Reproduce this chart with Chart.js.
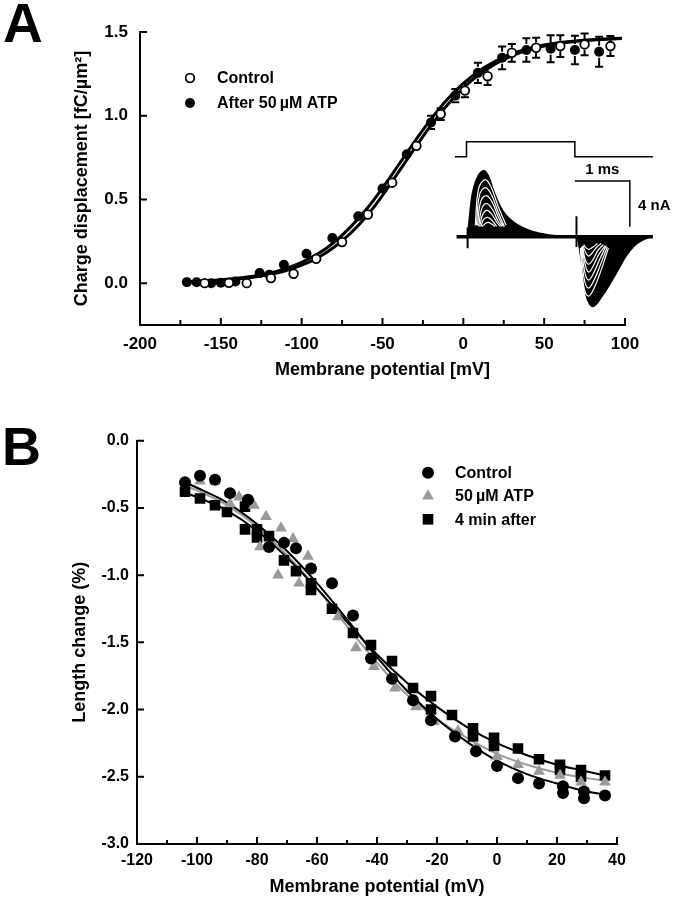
<!DOCTYPE html>
<html>
<head>
<meta charset="utf-8">
<script src="https://cdn.jsdelivr.net/npm/chart.js@4.4.1/dist/chart.umd.min.js"></script>
<style>
  body { margin: 0; background: #fff; width: 680px; height: 899px; position: relative; overflow: hidden;
         font-family: "Liberation Sans", Arial, Helvetica, sans-serif; }
  .box { position: absolute; }
  .letter { position: absolute; font-weight: bold; color: #000; line-height: 1; }
</style>
</head>
<body>
<div class="letter" style="left:3px; top:-4px; font-size:55px;">A</div>
<div class="box" style="left:0; top:0; width:680px; height:390px;"><canvas id="chartA"></canvas></div>
<div class="box" style="left:450px; top:135px; width:230px; height:180px;"><canvas id="inset"></canvas></div>
<div class="letter" style="left:2px; top:419px; font-size:54px;">B</div>
<div class="box" style="left:0; top:400px; width:680px; height:499px;"><canvas id="chartB"></canvas></div>

<script>
    // ---- panel A: charge displacement ----
    var aXTicks = [-200, -150, -100, -50, 0, 50, 100];
    var aXMinor = [-175, -125, -75, -25, 25, 75];
    var aYTicks = [0, 0.5, 1.0, 1.5];

    var aAtpV = [-171, -165, -156, -150, -141, -126, -120, -111, -97, -81, -65, -50, -35, -20, -5, 9, 24, 39, 54, 69, 84];
    var aAtpQ = [0.006, 0.005, 0.0, 0.003, 0.010, 0.060, 0.050, 0.110, 0.176, 0.270, 0.400, 0.565, 0.770, 0.960, 1.120, 1.256, 1.346, 1.392, 1.400, 1.392, 1.382];
    var aAtpErr = [0.01, 0.01, 0.01, 0.01, 0.01, 0.015, 0.015, 0.02, 0.02, 0.025, 0.03, 0.03, 0.035, 0.04, 0.04, 0.06, 0.068, 0.07, 0.08, 0.085, 0.09];

    var aCtlV = [-160, -145, -134, -119, -105, -91, -75, -59, -44, -29, -14, 1, 15, 30, 45, 60, 75, 91];
    var aCtlQ = [0.0, 0.002, 0.0, 0.03, 0.056, 0.145, 0.245, 0.410, 0.600, 0.820, 1.010, 1.150, 1.236, 1.376, 1.406, 1.416, 1.426, 1.416];
    var aCtlErr = [0.01, 0.01, 0.01, 0.015, 0.015, 0.02, 0.02, 0.025, 0.03, 0.03, 0.035, 0.04, 0.053, 0.053, 0.06, 0.065, 0.065, 0.06];

    var aFitV = [-173, -160, -150, -140, -130, -120, -110, -100, -90, -80, -70, -60, -50, -40, -30, -20, -10, 0, 10, 20, 30, 40, 50, 60, 70, 80, 90, 98];
    var aFitAtp = [0.008, 0.013, 0.020, 0.029, 0.042, 0.060, 0.087, 0.124, 0.175, 0.244, 0.333, 0.441, 0.568, 0.707, 0.847, 0.980, 1.097, 1.193, 1.269, 1.327, 1.370, 1.400, 1.422, 1.437, 1.447, 1.454, 1.459, 1.462];
    var aFitCtl = [0.006, 0.011, 0.016, 0.024, 0.035, 0.051, 0.074, 0.107, 0.152, 0.214, 0.296, 0.398, 0.524, 0.664, 0.806, 0.942, 1.063, 1.166, 1.248, 1.311, 1.358, 1.392, 1.416, 1.433, 1.445, 1.452, 1.458, 1.461];

    // ---- inset: gating currents (ms / nA) ----
    var insProtoT = [-0.21, 0.0, 0.0, 1.97, 1.97, 3.39];
    var insProtoV = [7.0, 7.0, 8.3, 8.3, 7.0, 7.0];
    var insBaseT = [-0.18, 3.39];
    var insBaseI = [0, 0];
    var insOnT = [0.02, 0.06, 0.10, 0.15, 0.20, 0.25, 0.32, 0.40, 0.50, 0.60, 0.70, 0.85, 1.00, 1.20, 1.50, 1.90];
    var insOnI = [0, 2.0, 3.6, 4.6, 5.2, 5.6, 5.77, 5.3, 3.9, 2.8, 2.0, 1.3, 0.85, 0.45, 0.15, 0];
    var insOffT = [2.02, 2.06, 2.10, 2.15, 2.20, 2.28, 2.36, 2.45, 2.55, 2.65, 2.78, 2.90, 3.05, 3.20, 3.35];
    var insOffI = [0, -1.2, -2.5, -4.4, -5.5, -6.1, -5.9, -5.3, -4.6, -3.8, -2.7, -1.7, -0.8, -0.3, 0];
    var onArcT = [
        [0.16, 0.22, 0.34, 0.45, 0.58, 0.72],
        [0.18, 0.24, 0.35, 0.46, 0.58, 0.69],
        [0.20, 0.26, 0.36, 0.47, 0.58, 0.67],
        [0.22, 0.28, 0.37, 0.47, 0.57, 0.65],
        [0.24, 0.30, 0.38, 0.47, 0.56, 0.62],
        [0.26, 0.31, 0.38, 0.46, 0.55],
        [0.28, 0.33, 0.39, 0.46, 0.52]
    ];
    var onArcI = [
        [1.0, 4.2, 5.0, 4.3, 2.6, 1.0],
        [1.0, 3.7, 4.3, 3.6, 2.1, 0.9],
        [1.0, 3.1, 3.6, 3.0, 1.7, 0.9],
        [0.9, 2.5, 2.9, 2.4, 1.4, 0.9],
        [0.9, 2.0, 2.3, 1.9, 1.2, 0.9],
        [0.9, 1.5, 1.7, 1.45, 0.9],
        [0.9, 1.1, 1.25, 1.1, 0.9]
    ];
    var offArcT = [
        [2.07, 2.13, 2.22, 2.32, 2.45, 2.58],
        [2.08, 2.14, 2.22, 2.32, 2.44, 2.56],
        [2.09, 2.15, 2.22, 2.31, 2.42, 2.54],
        [2.10, 2.16, 2.22, 2.30, 2.40, 2.52],
        [2.11, 2.16, 2.22, 2.30, 2.39, 2.49],
        [2.12, 2.17, 2.22, 2.29, 2.37, 2.45],
        [2.13, 2.18, 2.23, 2.30, 2.38]
    ];
    var offArcI = [
        [-1.0, -4.3, -5.2, -4.5, -2.9, -1.0],
        [-1.0, -3.7, -4.5, -3.8, -2.4, -0.9],
        [-0.9, -3.1, -3.8, -3.2, -2.0, -0.8],
        [-0.9, -2.5, -3.1, -2.6, -1.6, -0.8],
        [-0.8, -2.0, -2.4, -2.0, -1.2, -0.7],
        [-0.8, -1.4, -1.7, -1.4, -0.9, -0.6],
        [-0.7, -1.0, -1.1, -0.9, -0.6]
    ];
    var insSpikeT = [0.02, 2.0];
    var insSpikeTop = [0.8, 1.8];
    var insSpikeBot = [-1.0, -0.9];
    var insBarT = [1.97, 2.97, 2.97];
    var insBarI = [4.87, 4.87, 0.87];

    // ---- panel B: length change ----
    var bXTicks = [-120, -100, -80, -60, -40, -20, 0, 20, 40];
    var bXMinor = [-110, -90, -70, -50, -30, -10, 10, 30];
    var bYTicks = [0, -0.5, -1.0, -1.5, -2.0, -2.5, -3.0];

    var bCtlV = [-104, -99, -94, -89, -83, -76, -71, -67, -62, -55, -48, -42, -35, -28, -22, -14, -7, 0, 7, 14, 22, 22, 29, 29, 36];
    var bCtlL = [-0.31, -0.26, -0.29, -0.39, -0.44, -0.79, -0.76, -0.80, -0.95, -1.06, -1.30, -1.62, -1.77, -1.93, -2.08, -2.20, -2.31, -2.42, -2.51, -2.55, -2.57, -2.62, -2.61, -2.66, -2.64];

    var bAtpV = [-99, -94, -89, -86, -81, -77, -79, -72, -68, -73, -63, -66, -53, -47, -41, -34, -27, -21, -13, -7, 0, 7, 14, 21, 28, 36];
    var bAtpL = [-0.30, -0.30, -0.47, -0.42, -0.48, -0.565, -0.79, -0.65, -0.73, -1.00, -0.86, -1.06, -1.31, -1.54, -1.68, -1.84, -1.98, -2.09, -2.16, -2.28, -2.35, -2.41, -2.46, -2.49, -2.54, -2.54];

    var bAftV = [-104, -99, -94, -90, -84, -84, -80, -80, -76, -71, -67, -62, -62, -55, -48, -42, -35, -28, -22, -22, -15, -8, -8, -1, -1, 7, 14, 21, 21, 28, 28, 36];
    var bAftL = [-0.38, -0.43, -0.48, -0.53, -0.49, -0.66, -0.66, -0.72, -0.71, -0.89, -0.97, -1.06, -1.11, -1.25, -1.43, -1.52, -1.64, -1.84, -1.90, -2.00, -2.04, -2.14, -2.20, -2.21, -2.27, -2.29, -2.37, -2.41, -2.45, -2.45, -2.50, -2.49];

    var bFitV = [-105, -100, -90, -80, -70, -60, -50, -40, -30, -20, -10, 0, 10, 20, 30, 36];
    var bFitCtl = [-0.30, -0.35, -0.46, -0.62, -0.82, -1.06, -1.33, -1.61, -1.86, -2.07, -2.24, -2.38, -2.48, -2.55, -2.61, -2.63];
    var bFitAtp = [-0.33, -0.37, -0.48, -0.64, -0.85, -1.10, -1.38, -1.65, -1.89, -2.07, -2.21, -2.33, -2.41, -2.47, -2.51, -2.53];
    var bFitAft = [-0.38, -0.42, -0.52, -0.67, -0.87, -1.10, -1.35, -1.59, -1.80, -1.98, -2.13, -2.25, -2.34, -2.41, -2.46, -2.49];

    var GRAY = '#9a9a9a';
    var FONT = '"Liberation Sans", Arial, Helvetica, sans-serif';
    Chart.defaults.font.family = FONT;
    Chart.defaults.color = '#000';

    function pts(xs, ys) {
        return xs.map(function (x, i) { return { x: x, y: ys[i] }; });
    }

    function marker(ctx, style, x, y, r, fill, stroke, bw) {
        ctx.beginPath();
        if (style === 'rect') {
            var s = Math.SQRT1_2 * r;
            ctx.rect(x - s, y - s, 2 * s, 2 * s);
        } else if (style === 'triangle') {
            for (var k = 0; k < 3; k++) {
                var a = k * 2 * Math.PI / 3;
                var px = x + Math.sin(a) * r, py = y - Math.cos(a) * r;
                if (k === 0) ctx.moveTo(px, py); else ctx.lineTo(px, py);
            }
            ctx.closePath();
        } else {
            ctx.arc(x, y, r, 0, Math.PI * 2);
        }
        ctx.fillStyle = fill;
        ctx.fill();
        if (bw) { ctx.lineWidth = bw; ctx.strokeStyle = stroke; ctx.stroke(); }
    }

    // ticks pointing into the plot, as in the original
    var innerTicks = {
        id: 'innerTicks',
        afterDraw: function (chart, args, opts) {
            var ctx = chart.ctx, area = chart.chartArea, sx = chart.scales.x, sy = chart.scales.y;
            ctx.save();
            ctx.strokeStyle = '#000';
            ctx.lineWidth = 2;
            ctx.beginPath();
            opts.xMajor.forEach(function (v) { var p = sx.getPixelForValue(v); ctx.moveTo(p, area.bottom); ctx.lineTo(p, area.bottom - opts.majorLen); });
            opts.xMinor.forEach(function (v) { var p = sx.getPixelForValue(v); ctx.moveTo(p, area.bottom); ctx.lineTo(p, area.bottom - opts.minorLen); });
            opts.yMajor.forEach(function (v) { var p = sy.getPixelForValue(v); ctx.moveTo(area.left, p); ctx.lineTo(area.left + opts.majorLen, p); });
            ctx.stroke();
            ctx.restore();
        }
    };

    var errorBars = {
        id: 'errorBars',
        afterDatasetsDraw: function (chart) {
            var ctx = chart.ctx, sy = chart.scales.y;
            ctx.save();
            ctx.strokeStyle = '#000';
            ctx.lineWidth = 2;
            chart.data.datasets.forEach(function (ds, i) {
                if (!ds.errors) return;
                var meta = chart.getDatasetMeta(i);
                meta.data.forEach(function (el, j) {
                    var v = ds.data[j].y, e = ds.errors[j];
                    var top = sy.getPixelForValue(v + e), bot = sy.getPixelForValue(v - e);
                    var gap = ds.pointRadius + 1;
                    ctx.beginPath();
                    if (el.y - top > gap) { ctx.moveTo(el.x, el.y - gap); ctx.lineTo(el.x, top); ctx.moveTo(el.x - 4, top); ctx.lineTo(el.x + 4, top); }
                    if (bot - el.y > gap) { ctx.moveTo(el.x, el.y + gap); ctx.lineTo(el.x, bot); ctx.moveTo(el.x - 4, bot); ctx.lineTo(el.x + 4, bot); }
                    ctx.stroke();
                });
            });
            ctx.restore();
        }
    };

    var keyBox = {
        id: 'keyBox',
        afterDraw: function (chart, args, opts) {
            var ctx = chart.ctx;
            ctx.save();
            ctx.font = 'bold 16px ' + FONT;
            ctx.textBaseline = 'middle';
            opts.items.forEach(function (it, i) {
                var y = opts.y + i * opts.step;
                marker(ctx, it.style, opts.x, y, it.r, it.fill, '#000', it.bw);
                ctx.fillStyle = '#000';
                ctx.fillText(it.text, opts.textX, y + 1);
            });
            ctx.restore();
        }
    };

    function axisX(min, max, ticks, title, fontSize, pad, titlePad, height) {
        return {
            type: 'linear', min: min, max: max,
            afterBuildTicks: function (s) { s.ticks = ticks.map(function (v) { return { value: v }; }); },
            afterFit: function (s) { s.height = height; },
            ticks: { color: '#000', padding: pad, font: { size: fontSize, weight: 'bold' }, callback: function (v) { return String(v); } },
            grid: { display: false, drawTicks: false },
            border: { display: true, color: '#000', width: 2 },
            title: { display: true, text: title, color: '#000', font: { size: 18, weight: 'bold' }, padding: { top: 0, bottom: titlePad } }
        };
    }
    function axisY(min, max, ticks, title, fontSize, pad, titlePad, width) {
        return {
            type: 'linear', min: min, max: max,
            afterBuildTicks: function (s) { s.ticks = ticks.map(function (v) { return { value: v }; }); },
            afterFit: function (s) { s.width = width; },
            ticks: { color: '#000', padding: pad, font: { size: fontSize, weight: 'bold' }, callback: function (v) { return v.toFixed(1); } },
            grid: { display: false, drawTicks: false },
            border: { display: true, color: '#000', width: 2 },
            title: { display: true, text: title, color: '#000', font: { size: 18, weight: 'bold' }, padding: { top: titlePad, bottom: 0 } }
        };
    }

    var chartA = new Chart(document.getElementById('chartA'), {
        type: 'scatter',
        data: {
            datasets: [
                { data: pts(aFitV, aFitAtp), showLine: true, borderColor: '#000', borderWidth: 3, pointRadius: 0, tension: 0.4, order: 4 },
                { data: pts(aFitV, aFitCtl), showLine: true, borderColor: '#000', borderWidth: 3, pointRadius: 0, tension: 0.4, order: 3 },
                { label: 'After 50 µM ATP', data: pts(aAtpV, aAtpQ), errors: aAtpErr, pointRadius: 5,
                  backgroundColor: '#000', borderColor: '#000', borderWidth: 0, order: 2 },
                { label: 'Control', data: pts(aCtlV, aCtlQ), errors: aCtlErr, pointRadius: 4.3,
                  backgroundColor: '#fff', borderColor: '#000', borderWidth: 1.8, order: 1 }
            ]
        },
        options: {
            responsive: true,
            maintainAspectRatio: false,
            animation: false,
            events: [],
            layout: { padding: { left: 0, right: 55, top: 32, bottom: 0 } },
            scales: {
                x: axisX(-200, 100, aXTicks, 'Membrane potential [mV]', 17, 9, 9, 65),
                y: axisY(-0.25, 1.5, aYTicks, 'Charge displacement [fC/µm²]', 17, 12, 71, 140)
            },
            plugins: {
                legend: { display: false },
                tooltip: { enabled: false },
                innerTicks: { xMajor: aXTicks, xMinor: aXMinor, yMajor: aYTicks, majorLen: 7, minorLen: 5 },
                keyBox: {
                    x: 190, y: 78, step: 25, textX: 217,
                    items: [
                        { text: 'Control', style: 'circle', r: 4.3, fill: '#fff', bw: 1.8 },
                        { text: 'After 50\u2009µM ATP', style: 'circle', r: 5, fill: '#000', bw: 0 }
                    ]
                }
            }
        },
        plugins: [innerTicks, errorBars, keyBox]
    });

    // inset traces
    var insetSets = [
        { data: pts(insProtoT, insProtoV), borderColor: '#000', borderWidth: 1.5, order: 6 },
        { data: pts(insOnT, insOnI), borderColor: '#000', borderWidth: 1.5, backgroundColor: '#000', fill: 'origin', tension: 0.35, order: 6 },
        { data: pts(insOffT, insOffI), borderColor: '#000', borderWidth: 1.5, backgroundColor: '#000', fill: 'origin', tension: 0.35, order: 6 },
        { data: pts(insBaseT, insBaseI), borderColor: '#000', borderWidth: 3.5, order: 5 },
        { data: pts(insBarT, insBarI), borderColor: '#000', borderWidth: 1.5, order: 5 }
    ];
    onArcT.forEach(function (ts, k) {
        insetSets.push({ data: pts(ts, onArcI[k]), borderColor: '#fff', borderWidth: 1.2, tension: 0.4, order: 2 });
    });
    offArcT.forEach(function (ts, k) {
        insetSets.push({ data: pts(ts, offArcI[k]), borderColor: '#fff', borderWidth: 1.2, tension: 0.4, order: 2 });
    });
    insSpikeT.forEach(function (t, k) {
        insetSets.push({ data: pts([t, t], [insSpikeTop[k], insSpikeBot[k]]), borderColor: '#000', borderWidth: 2, order: 1 });
    });
    insetSets.forEach(function (d) { d.showLine = true; d.pointRadius = 0; if (!d.fill) d.fill = false; });

    var insetText = {
        id: 'insetText',
        afterDraw: function (chart) {
            var ctx = chart.ctx, sx = chart.scales.x, sy = chart.scales.y;
            ctx.save();
            ctx.fillStyle = '#000';
            ctx.font = 'bold 15px ' + FONT;
            ctx.textAlign = 'center';
            ctx.textBaseline = 'bottom';
            ctx.fillText('1 ms', sx.getPixelForValue(2.47), sy.getPixelForValue(5.15));
            ctx.textAlign = 'left';
            ctx.textBaseline = 'middle';
            ctx.fillText('4 nA', sx.getPixelForValue(3.12), sy.getPixelForValue(2.67));
            ctx.restore();
        }
    };

    var inset = new Chart(document.getElementById('inset'), {
        type: 'scatter',
        data: { datasets: insetSets },
        options: {
            responsive: true,
            maintainAspectRatio: false,
            animation: false,
            events: [],
            layout: { padding: 0 },
            scales: {
                x: { type: 'linear', display: false, min: -0.3, max: 3.882 },
                y: { type: 'linear', display: false, min: -6.85, max: 8.9 }
            },
            plugins: { legend: { display: false }, tooltip: { enabled: false } }
        },
        plugins: [insetText]
    });

    var chartB = new Chart(document.getElementById('chartB'), {
        type: 'scatter',
        data: {
            datasets: [
                { data: pts(bFitV, bFitAtp), showLine: true, borderColor: GRAY, borderWidth: 2, pointRadius: 0, tension: 0.4, order: 7 },
                { data: pts(bFitV, bFitAft), showLine: true, borderColor: '#000', borderWidth: 2, pointRadius: 0, tension: 0.4, order: 6 },
                { data: pts(bFitV, bFitCtl), showLine: true, borderColor: '#000', borderWidth: 2, pointRadius: 0, tension: 0.4, order: 5 },
                { label: '4 min after', data: pts(bAftV, bAftL), pointStyle: 'rect', pointRadius: 7.5,
                  backgroundColor: '#000', borderWidth: 0, order: 3 },
                { label: '50 µM ATP', data: pts(bAtpV, bAtpL), pointStyle: 'triangle', pointRadius: 6.8,
                  backgroundColor: GRAY, borderWidth: 0, order: 2 },
                { label: 'Control', data: pts(bCtlV, bCtlL), pointStyle: 'circle', pointRadius: 6,
                  backgroundColor: '#000', borderWidth: 0, order: 1 }
            ]
        },
        options: {
            responsive: true,
            maintainAspectRatio: false,
            animation: false,
            events: [],
            layout: { padding: { left: 0, right: 63, top: 40.7, bottom: 0 } },
            scales: {
                x: axisX(-120, 40, bXTicks, 'Membrane potential (mV)', 16, 7, 1.5, 55),
                y: axisY(-3, 0, bYTicks, 'Length change (%)', 16, 8, 69, 137)
            },
            plugins: {
                legend: { display: false },
                tooltip: { enabled: false },
                innerTicks: { xMajor: bXTicks, xMinor: bXMinor, yMajor: bYTicks, majorLen: 7, minorLen: 4 },
                keyBox: {
                    x: 428, y: 72.7, step: 23.3, textX: 455,
                    items: [
                        { text: 'Control', style: 'circle', r: 6, fill: '#000', bw: 0 },
                        { text: '50\u2009µM ATP', style: 'triangle', r: 6.8, fill: GRAY, bw: 0 },
                        { text: '4 min after', style: 'rect', r: 7.5, fill: '#000', bw: 0 }
                    ]
                }
            }
        },
        plugins: [innerTicks, keyBox]
    });
</script>
</body>
</html>
